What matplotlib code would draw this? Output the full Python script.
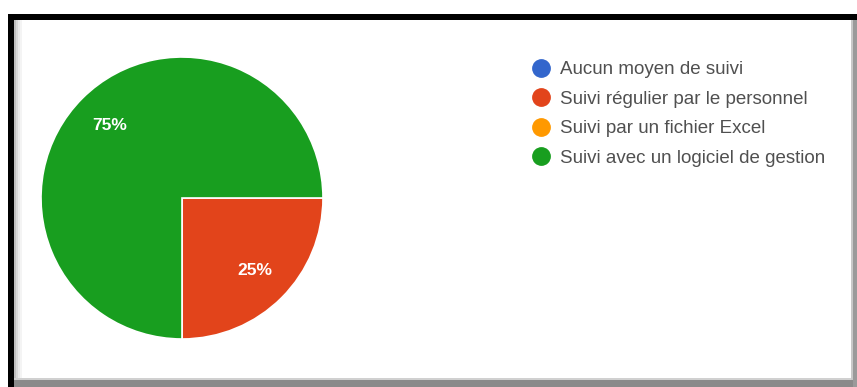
import matplotlib
matplotlib.use("Agg")
import matplotlib.pyplot as plt
from matplotlib.patches import Rectangle
from matplotlib.lines import Line2D

categories = [
    "Aucun moyen de suivi",
    "Suivi régulier par le personnel",
    "Suivi par un fichier Excel",
    "Suivi avec un logiciel de gestion",
]
values = [0, 25, 0, 75]
colors = ["#3366cc", "#e2441b", "#ff9900", "#189e1f"]

plt.rcParams["font.family"] = ["Liberation Sans", "DejaVu Sans"]

W, H = 857, 387
fig = plt.figure(figsize=(W / 100, H / 100), dpi=100)
fig.patch.set_facecolor("white")

# Frame: black border on top/left, grey shadow on bottom/right
bg = fig.add_axes([0, 0, 1, 1], zorder=0)
bg.set_xlim(0, W)
bg.set_ylim(H, 0)
bg.axis("off")
bg.add_patch(Rectangle((8, 14), W - 8, 6, color="black", lw=0))
bg.add_patch(Rectangle((8, 14), 6, H - 14, color="black", lw=0))
for i, c in enumerate(["#bdbdbd", "#d6d6d6", "#e8e8e8", "#f4f4f4"]):
    bg.add_patch(Rectangle((14 + 2 * i, 20), 2, 360, color=c, lw=0))
bg.add_patch(Rectangle((14, 378), W - 14, 2, color="#d0d0d0", lw=0))
bg.add_patch(Rectangle((14, 380), W - 14, 7, color="#8a8a8a", lw=0))
bg.add_patch(Rectangle((851, 20), 2, 360, color="#c8c8c8", lw=0))
bg.add_patch(Rectangle((853, 20), 4, 367, color="#9a9a9a", lw=0))

# Pie
cx, cy, r = 182, 198, 141
ax = fig.add_axes([(cx - r) / W, (H - cy - r) / H, 2 * r / W, 2 * r / H], zorder=1)


def pct_label(p):
    return f"{p:.0f}%" if p > 0 else ""


wedges, _, autotexts = ax.pie(
    values,
    colors=colors,
    startangle=0,
    counterclock=False,
    radius=1,
    autopct=pct_label,
    pctdistance=0.73,
    wedgeprops=dict(edgecolor="white", linewidth=1.2),
    textprops=dict(color="white", fontsize=12.5, fontweight="bold"),
)
ax.set_xlim(-1, 1)
ax.set_ylim(-1, 1)
ax.set_aspect("equal")
ax.axis("off")

# Legend
handles = [
    Line2D([], [], marker="o", linestyle="none", markersize=12.5,
           markerfacecolor=c, markeredgecolor=c)
    for c in colors
]
leg = fig.legend(
    handles, categories,
    loc="upper left",
    bbox_to_anchor=(533 / W, 1 - 61 / H),
    frameon=False,
    fontsize=13.5,
    labelcolor="#505050",
    handlelength=0.9,
    handletextpad=0.55,
    labelspacing=0.66,
    borderpad=0,
    borderaxespad=0,
)

fig.savefig("out.png", dpi=100, facecolor="white")
